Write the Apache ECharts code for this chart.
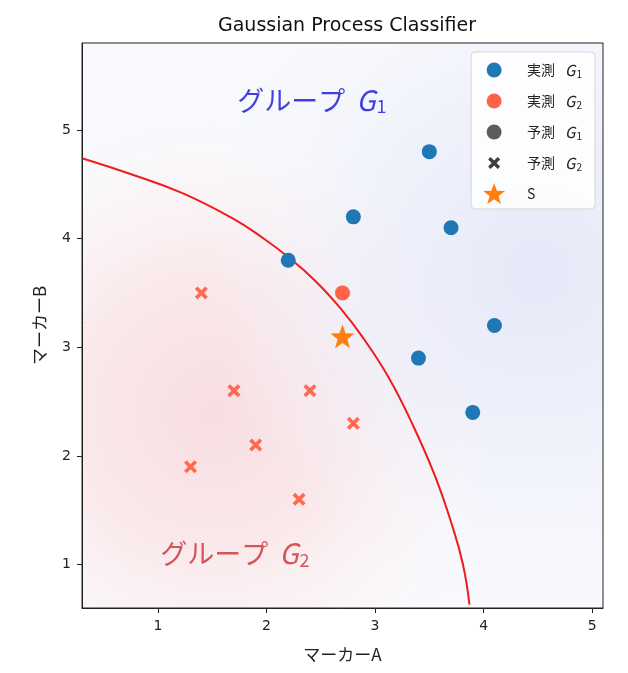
<!DOCTYPE html>
<html><head><meta charset="utf-8">
<script src="https://cdn.jsdelivr.net/npm/echarts@6/dist/echarts.min.js"></script>
<style>html,body{margin:0;padding:0;background:#fff}#c{width:628px;height:673px}</style>
</head><body><div id="c"></div>
<script>
// ---- data ----
const actualG1 = [[3.5,4.8],[2.8,4.2],[3.7,4.1],[2.2,3.8],[4.1,3.2],[3.4,2.9],[3.9,2.4]];
const actualG2 = [[2.7,3.5]];
const predG1 = [];
const predG2 = [[1.4,3.5],[1.7,2.6],[2.4,2.6],[2.8,2.3],[1.9,2.1],[1.3,1.9],[2.3,1.6]];
const sampleS = [[2.7,3.1]];
const boundaryX = [0.30,0.76,1.22,1.68,1.96,2.20,2.45,2.68,2.88,3.12,3.35,3.55,3.71,3.81,3.87];
const boundaryY = [4.74,4.59,4.42,4.19,4.01,3.83,3.61,3.36,3.10,2.73,2.28,1.82,1.36,1.00,0.63];
const groupLabelPos = [[1.73,5.27],[1.02,1.10]];
const groupLabelSub = ['1','2'];
const xTicks = [1,2,3,4,5];
const yTicks = [1,2,3,4,5];
const xRange = [0.3,5.1];
const yRange = [0.6,5.8];
const legendNames = ['実測 G1','実測 G2','予測 G1','予測 G2','S'];

// ---- style ----
const FONT = '"Noto Sans CJK JP", "Noto Sans", sans-serif';
const LATIN = '"DejaVu Sans", "Noto Sans CJK JP", sans-serif';
const BLUE = '#1f77b4', TOMATO = '#ff6347', ORANGE = '#ff7f0e';
const STAR = 'path://M11,0 L13.65,7.36 L21.46,7.6 L15.28,12.39 L17.47,19.9 L11,15.5 L4.53,19.9 L6.72,12.39 L0.54,7.6 L8.35,7.36 Z';
const XMARK = 'path://M0,2 L2,0 L5,3 L8,0 L10,2 L7,5 L10,8 L8,10 L5,7 L2,10 L0,8 L3,5 Z';
const ICON_CIRCLE = 'path://M0,0 M22,22 M3.5,11 A7.5,7.5 0 1,0 18.5,11 A7.5,7.5 0 1,0 3.5,11 Z';
const ICON_X = 'path://M0,0 M22,22 M5,7.4 L7.4,5 L11,8.6 L14.6,5 L17,7.4 L13.4,11 L17,14.6 L14.6,17 L11,13.4 L7.4,17 L5,14.6 L8.6,11 Z';
const C_G1 = '#1212d4', C_G2 = '#cc2e34';

const boundary = boundaryX.map((x,i)=>[x,boundaryY[i]]);
const labelData = groupLabelPos.map((p,i)=>({value:p, sub:groupLabelSub[i]}));
const legendIcons = [
  {icon:ICON_CIRCLE, color:BLUE},{icon:ICON_CIRCLE, color:TOMATO},{icon:ICON_CIRCLE, color:'#333'},
  {icon:ICON_X, color:'#333'},{icon:STAR, color:ORANGE}];

const chart = echarts.init(document.getElementById('c'));
const option = {
  animation:false,
  textStyle:{fontFamily:FONT},
  title:{text:'Gaussian Process Classifier', left:342, top:12, textAlign:'center',
    textStyle:{fontFamily:LATIN, fontSize:19, fontWeight:'normal', color:'#111'}},
  grid:{left:82, right:25, top:43, bottom:65, show:false},
  xAxis:{type:'value', min:xRange[0], max:xRange[1], name:'マーカーA', nameLocation:'middle', nameGap:38,
    nameTextStyle:{fontFamily:FONT, fontSize:17, color:'#222'},
    axisLine:{show:true, onZero:false, lineStyle:{color:'#222', width:1}},
    axisTick:{show:true, length:5, inside:false, customValues:xTicks, lineStyle:{color:'#222'}},
    axisLabel:{customValues:xTicks, margin:11, fontFamily:LATIN, fontSize:14, color:'#222'},
    splitLine:{show:false}},
  yAxis:{type:'value', min:yRange[0], max:yRange[1], name:'マーカーB', nameLocation:'middle', nameGap:34,
    nameTextStyle:{fontFamily:FONT, fontSize:17, color:'#222'},
    axisLine:{show:true, onZero:false, lineStyle:{color:'#222', width:1}},
    axisTick:{show:true, length:5, inside:false, customValues:yTicks, lineStyle:{color:'#222'}},
    axisLabel:{customValues:yTicks, margin:11, fontFamily:LATIN, fontSize:14, color:'#222'},
    splitLine:{show:false}},
  legend:{
    orient:'vertical', right:33, top:52, itemWidth:22, itemHeight:22, itemGap:9,
    padding:[7,13,5,12], borderColor:'#d5d5d5', borderWidth:1, borderRadius:4,
    backgroundColor:'rgba(255,255,255,0.85)', align:'left', selectedMode:false,
    data: legendNames.map((n,i)=>({name:n, icon:legendIcons[i].icon, itemStyle:{color:legendIcons[i].color}})),
    formatter:function(name){
      const m = name.match(/^(.*) G(\d)$/);
      if(m) return '{n|'+m[1]+'}{g|G}{s|'+m[2]+'}';
      return '{n|'+name+'}';
    },
    textStyle:{fontFamily:FONT, fontSize:14, color:'#222', rich:{
      n:{fontFamily:FONT, fontSize:14, color:'#222', padding:[0,0,0,17]},
      g:{fontFamily:FONT, fontSize:15, fontStyle:'italic', color:'#222', padding:[0,0,0,10]},
      s:{fontFamily:FONT, fontSize:10, color:'#222', padding:[8,0,0,1]}
    }}
  },
  series:[
    {name:'boundary', type:'line', data:boundary, smooth:0.45, showSymbol:false, symbol:'none',
      lineStyle:{color:'#ee1c1c', width:2}, z:3, silent:true},
    {name:'実測 G1', type:'scatter', data:actualG1, symbol:'circle', symbolSize:15, itemStyle:{color:BLUE, opacity:1}, z:4},
    {name:'実測 G2', type:'scatter', data:actualG2, symbol:'circle', symbolSize:15, itemStyle:{color:TOMATO, opacity:1}, z:4},
    {name:'予測 G1', type:'scatter', data:predG1, symbol:'circle', symbolSize:15, itemStyle:{color:'#333'}, z:4},
    {name:'予測 G2', type:'scatter', data:predG2, symbol:XMARK, symbolSize:13, itemStyle:{color:TOMATO, opacity:0.95}, z:4},
    {name:'S', type:'scatter', data:sampleS, symbol:STAR, symbolSize:24, itemStyle:{color:ORANGE, opacity:1}, z:5},
    {name:'labels', type:'scatter', data:labelData, symbolSize:0, silent:true, z:5,
      label:{show:true, position:'right', distance:0,
        formatter:function(p){ return p.data.sub==='1' ? '{a|グループ}{ga|G}{sa|1}' : '{b|グループ}{gb|G}{sb|2}'; },
        rich:{
          a:{fontFamily:FONT, fontSize:27, color:C_G1},
          ga:{fontFamily:FONT, fontSize:28, fontStyle:'italic', color:C_G1, padding:[0,0,0,11]},
          sa:{fontFamily:FONT, fontSize:18, color:C_G1, padding:[12,0,0,1]},
          b:{fontFamily:FONT, fontSize:27, color:C_G2},
          gb:{fontFamily:FONT, fontSize:28, fontStyle:'italic', color:C_G2, padding:[0,0,0,11]},
          sb:{fontFamily:FONT, fontSize:18, color:C_G2, padding:[12,0,0,1]}
        }}}
  ]
};
chart.setOption(option);

// background field + frame (positions from the chart's own scales)
const p0 = chart.convertToPixel({gridIndex:0},[xRange[0], yRange[1]]);
const p1 = chart.convertToPixel({gridIndex:0},[xRange[1], yRange[0]]);
const pink = chart.convertToPixel({gridIndex:0},[1.5, 2.4]);
const blue = chart.convertToPixel({gridIndex:0},[4.5, 3.7]);
const rect = {x:p0[0], y:p0[1], width:p1[0]-p0[0], height:p1[1]-p0[1]};
chart.setOption({graphic:[
  {type:'rect', shape:rect, style:{fill:'#f8f9fd'}, z:-3, silent:true},
  {type:'rect', shape:rect, z:-2, silent:true, style:{fill:{type:'radial', x:pink[0], y:pink[1], r:290, global:true,
    colorStops:[{offset:0,color:'rgba(248,222,226,1)'},{offset:0.45,color:'rgba(250,230,232,0.9)'},{offset:0.8,color:'rgba(252,242,242,0.55)'},{offset:1,color:'rgba(253,248,248,0)'}]}}},
  {type:'rect', shape:rect, z:-2, silent:true, style:{fill:{type:'radial', x:blue[0], y:blue[1], r:330, global:true,
    colorStops:[{offset:0,color:'rgba(230,232,248,1)'},{offset:0.5,color:'rgba(236,238,250,0.75)'},{offset:1,color:'rgba(244,246,253,0)'}]}}},
  {type:'rect', shape:rect, z:10, silent:true, style:{fill:null, stroke:'#222', lineWidth:1}}
]});
</script></body></html>
